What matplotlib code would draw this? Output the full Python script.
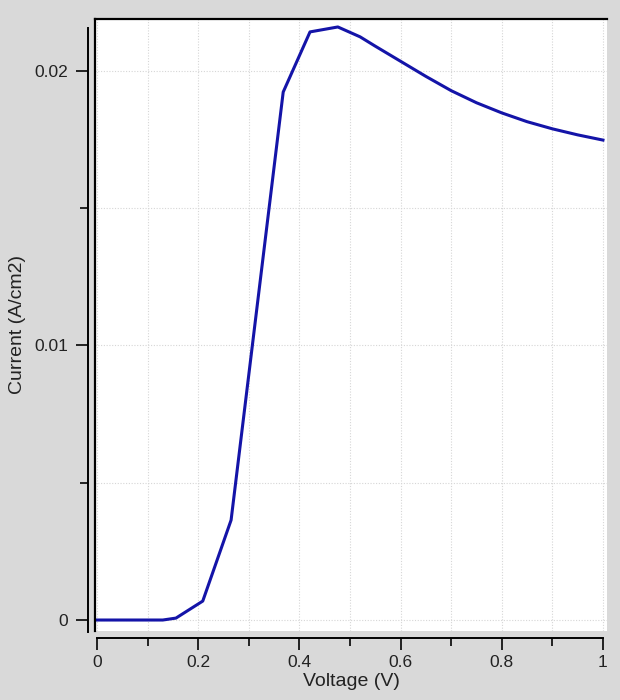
import matplotlib.pyplot as plt
from matplotlib.ticker import MultipleLocator

# Daten
voltage = [0.0, 0.05, 0.10, 0.13, 0.156, 0.209, 0.265, 0.368, 0.421, 0.476,
           0.52, 0.55, 0.60, 0.65, 0.70, 0.75, 0.80, 0.85, 0.90, 0.95, 1.0]
current = [0.0, 0.0, 0.0, 0.0, 0.00007, 0.00069, 0.00364, 0.01923, 0.02142, 0.0216,
           0.02124, 0.0209, 0.02035, 0.0198, 0.01928, 0.01884, 0.01847, 0.01815,
           0.01789, 0.01767, 0.01748]

xticks = [0, 0.2, 0.4, 0.6, 0.8, 1.0]
xticklabels = ["0", "0.2", "0.4", "0.6", "0.8", "1"]
yticks = [0, 0.01, 0.02]
yticklabels = ["0", "0.01", "0.02"]

plt.rcParams['font.family'] = ['Liberation Sans', 'DejaVu Sans']

bg = '#d9d9d9'
fig = plt.figure(figsize=(6.2, 7.0), dpi=100, facecolor=bg)
ax = fig.add_axes([95 / 620, 1 - 631 / 700, 512 / 620, 612 / 700])
ax.set_facecolor('white')

ax.plot(voltage, current, color='#1414a8', linewidth=2.2)

ax.set_xlim(-0.004, 1.008)
ax.set_ylim(-0.0004, 0.02189)

# Raster
ax.xaxis.set_minor_locator(MultipleLocator(0.1))
ax.yaxis.set_minor_locator(MultipleLocator(0.005))
ax.grid(which='both', color='#d6d6d6', linestyle=(0, (1, 1.5)), linewidth=0.8)
ax.set_axisbelow(True)

# Achsen
ax.set_xticks(xticks)
ax.set_xticklabels(xticklabels)
ax.set_yticks(yticks)
ax.set_yticklabels(yticklabels)

ax.spines['right'].set_visible(False)
ax.spines['top'].set_linewidth(1.6)
ax.spines['left'].set_position(('outward', 5))
ax.spines['left'].set_bounds(-0.00044, 0.02157)
ax.spines['left'].set_linewidth(1.4)
ax.spines['bottom'].set_position(('outward', 5))
ax.spines['bottom'].set_bounds(0, 1)
ax.spines['bottom'].set_linewidth(1.4)

# linker Rahmen der Zeichenfläche
ax.plot([0, 0], [0, 1], transform=ax.transAxes, color='black',
        linewidth=1.6, clip_on=False)

ax.tick_params(which='major', length=8.6, width=1.4, labelsize=12.5, color='#222222',
               labelcolor='#222222')
ax.tick_params(which='minor', length=5.8, width=1.4, color='#222222')
ax.tick_params(axis='y', pad=5.5)
ax.tick_params(axis='x', pad=4)

ax.set_xlabel("Voltage (V)", fontsize=14, color='#222222', labelpad=2)
ax.set_ylabel("Current (A/cm2)", fontsize=14, color='#222222', labelpad=6)

fig.savefig("out.png", dpi=100, facecolor=bg)
